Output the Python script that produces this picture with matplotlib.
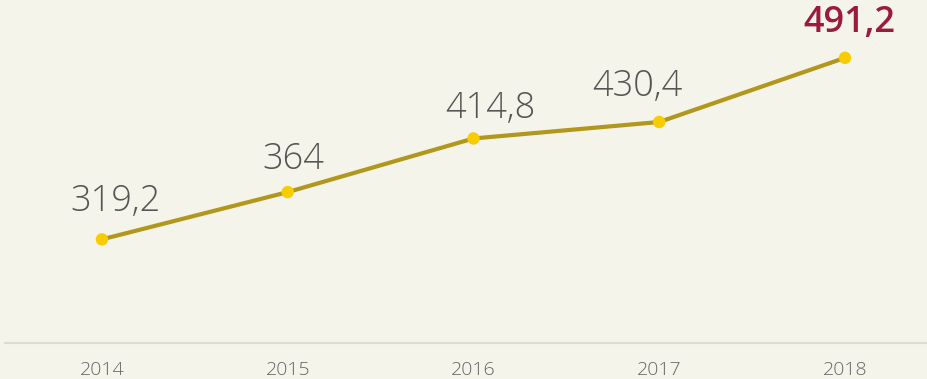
import matplotlib.pyplot as plt

years = ['2014', '2015', '2016', '2017', '2018']
values = [319.2, 364, 414.8, 430.4, 491.2]
labels = ['319,2', '364', '414,8', '430,4', '491,2']

bg = '#f5f4ea'
plt.rcParams['font.family'] = ['Open Sans', 'DejaVu Sans']

fig = plt.figure(figsize=(9.28, 3.79), dpi=100, facecolor=bg)
ax = fig.add_axes([5 / 928, (379 - 343) / 379, 923 / 928, 343 / 379])
ax.set_facecolor(bg)

x = range(len(years))
ax.plot(x, values, color='#b1971c', lw=3, zorder=2)
ax.scatter(x, values, s=80, color='#f7cc00', zorder=3, edgecolor='none')

# small nudges so the labels sit like in the original
dx = [10, 4, 12, -16, 3]
dy = [14, 10, 8, 12, 12]
for i, (v, lab) in enumerate(zip(values, labels)):
    last = i == len(values) - 1
    ax.annotate(lab, (i, v), xytext=(dx[i], dy[i]), textcoords='offset points',
                ha='center', va='bottom', fontsize=26,
                color='#9b1b3a' if last else '#555555',
                fontweight='semibold' if last else 'light')

ax.set_xlim(-0.522, 4.447)
ax.set_ylim(221, 546)
ax.set_yticks([])
ax.set_xticks(list(x))
ax.set_xticklabels(years, fontsize=14, color='#666666', fontweight='light')
ax.tick_params(axis='x', length=0, pad=13)
for s in ['top', 'right', 'left']:
    ax.spines[s].set_visible(False)
ax.spines['bottom'].set_color('#dcdcd4')
ax.spines['bottom'].set_linewidth(1.5)

fig.savefig('out.png', dpi=100, facecolor=bg)
